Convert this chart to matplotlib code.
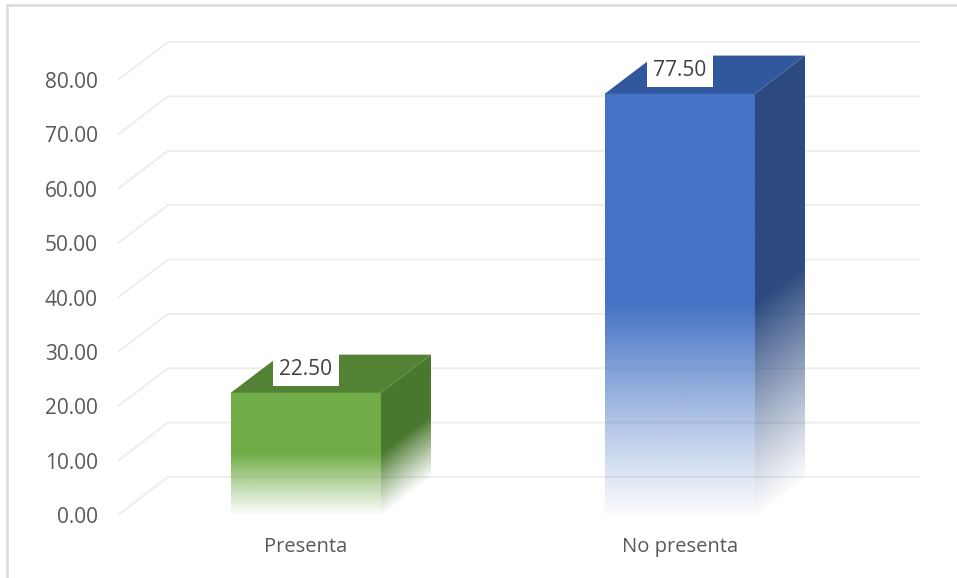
import numpy as np
import matplotlib
matplotlib.use("Agg")
import matplotlib.pyplot as plt
from matplotlib.patches import Polygon, Rectangle
from matplotlib.colors import to_rgb

# ---- data ----
categories = ["Presenta", "No presenta"]
values = [22.50, 77.50]
value_labels = ["22.50", "77.50"]
yticks = [0, 10, 20, 30, 40, 50, 60, 70, 80]

front_colors = ["#70AD47", "#4472C4"]
top_colors = ["#548235", "#31589C"]
side_colors = ["#4A782E", "#2C4A80"]

# ---- layout (pixels) ----
W, H = 957, 578
ax_left_px, ax_right_px = 118, 920
ax_bottom_px, ax_top_px = 515, 41      # from top of image
px_per_unit_y = (515 - 80) / 80.0
cat_px = (306, 680)
px_per_cat = cat_px[1] - cat_px[0]
bar_w_px = 150
depth_dx_px, depth_dy_px = 50, 38

plt.rcParams['font.family'] = ['Open Sans', 'DejaVu Sans']

fig = plt.figure(figsize=(W / 100, H / 100), dpi=100)
fig.patch.set_facecolor("white")
ax = fig.add_axes([ax_left_px / W, (H - ax_bottom_px) / H,
                   (ax_right_px - ax_left_px) / W, (ax_bottom_px - ax_top_px) / H])
ax.set_facecolor("none")

ylim_top = (ax_bottom_px - ax_top_px) / px_per_unit_y
xl = (ax_left_px - cat_px[0]) / px_per_cat
xr = (ax_right_px - cat_px[0]) / px_per_cat
ax.set_xlim(xl, xr)
ax.set_ylim(0, ylim_top)

DX = depth_dx_px / px_per_cat
DY = depth_dy_px / px_per_unit_y
BW = bar_w_px / px_per_cat

for s in ax.spines.values():
    s.set_visible(False)

# gridlines (floor-front to back wall)
for v in yticks:
    ax.plot([xl, xl + DX, xr], [v, v + DY, v + DY], color="#EDEDED", lw=1.3,
            zorder=1, clip_on=False, solid_capstyle="butt")

ax.set_yticks(yticks)
ax.set_yticklabels([f"{t:.2f}" for t in yticks], color="#595959", fontsize=15)
ax.tick_params(axis="y", length=0, pad=14.5)
ax.set_xticks(range(len(categories)))
ax.set_xticklabels(categories, color="#595959", fontsize=14.5)
ax.tick_params(axis="x", length=0, pad=16)


def alpha_fn(t):
    t = np.clip(t, 0, 1)
    return np.where(t >= 0.5, 1.0, 0.03 + 0.97 * (t / 0.5) ** 1.1)


for i, (v, lab) in enumerate(zip(values, value_labels)):
    x0 = i - BW / 2
    x1 = i + BW / 2
    # front face gradient
    n = 300
    yy = np.linspace(0, 1, n)
    img = np.zeros((n, 1, 4))
    img[..., :3] = to_rgb(front_colors[i])
    img[:, 0, 3] = alpha_fn(yy)
    ax.imshow(img, extent=[x0, x1, 0, v], origin="lower", aspect="auto",
              interpolation="bilinear", zorder=3)
    # side face gradient (face-local coordinates)
    nx, ny = 60, 400
    xs = np.linspace(0, 1, nx)
    ys = np.linspace(0, v + DY, ny)
    U, Y = np.meshgrid(xs, ys)
    local = (Y - U * DY) / v
    simg = np.zeros((ny, nx, 4))
    simg[..., :3] = to_rgb(side_colors[i])
    simg[..., 3] = alpha_fn(local)
    side_poly = Polygon([[x1, 0], [x1 + DX, DY], [x1 + DX, v + DY], [x1, v]],
                        closed=True, facecolor="none", edgecolor="none")
    ax.add_patch(side_poly)
    im = ax.imshow(simg, extent=[x1, x1 + DX, 0, v + DY], origin="lower",
                   aspect="auto", interpolation="bilinear", zorder=3)
    im.set_clip_path(side_poly)
    # top face
    top = Polygon([[x0, v], [x0 + DX, v + DY], [x1 + DX, v + DY], [x1, v]],
                  closed=True, facecolor=top_colors[i], edgecolor="none", zorder=4)
    ax.add_patch(top)
    # value label
    ax.text(i, v + 0.61 * DY, lab, ha="center", va="center", fontsize=15,
            color="#404040", zorder=6,
            bbox=dict(boxstyle="square,pad=0.3", facecolor="white", edgecolor="none"))

ax.set_xlim(xl, xr)
ax.set_ylim(0, ylim_top)

# chart border
fig.patches.append(Rectangle((7 / W, -0.05), 1.2, 1.05 - 5 / H, transform=fig.transFigure,
                             facecolor="none", edgecolor="#D9D9D9", lw=1.8, zorder=0))

fig.savefig("out.png", dpi=100, facecolor="white")
